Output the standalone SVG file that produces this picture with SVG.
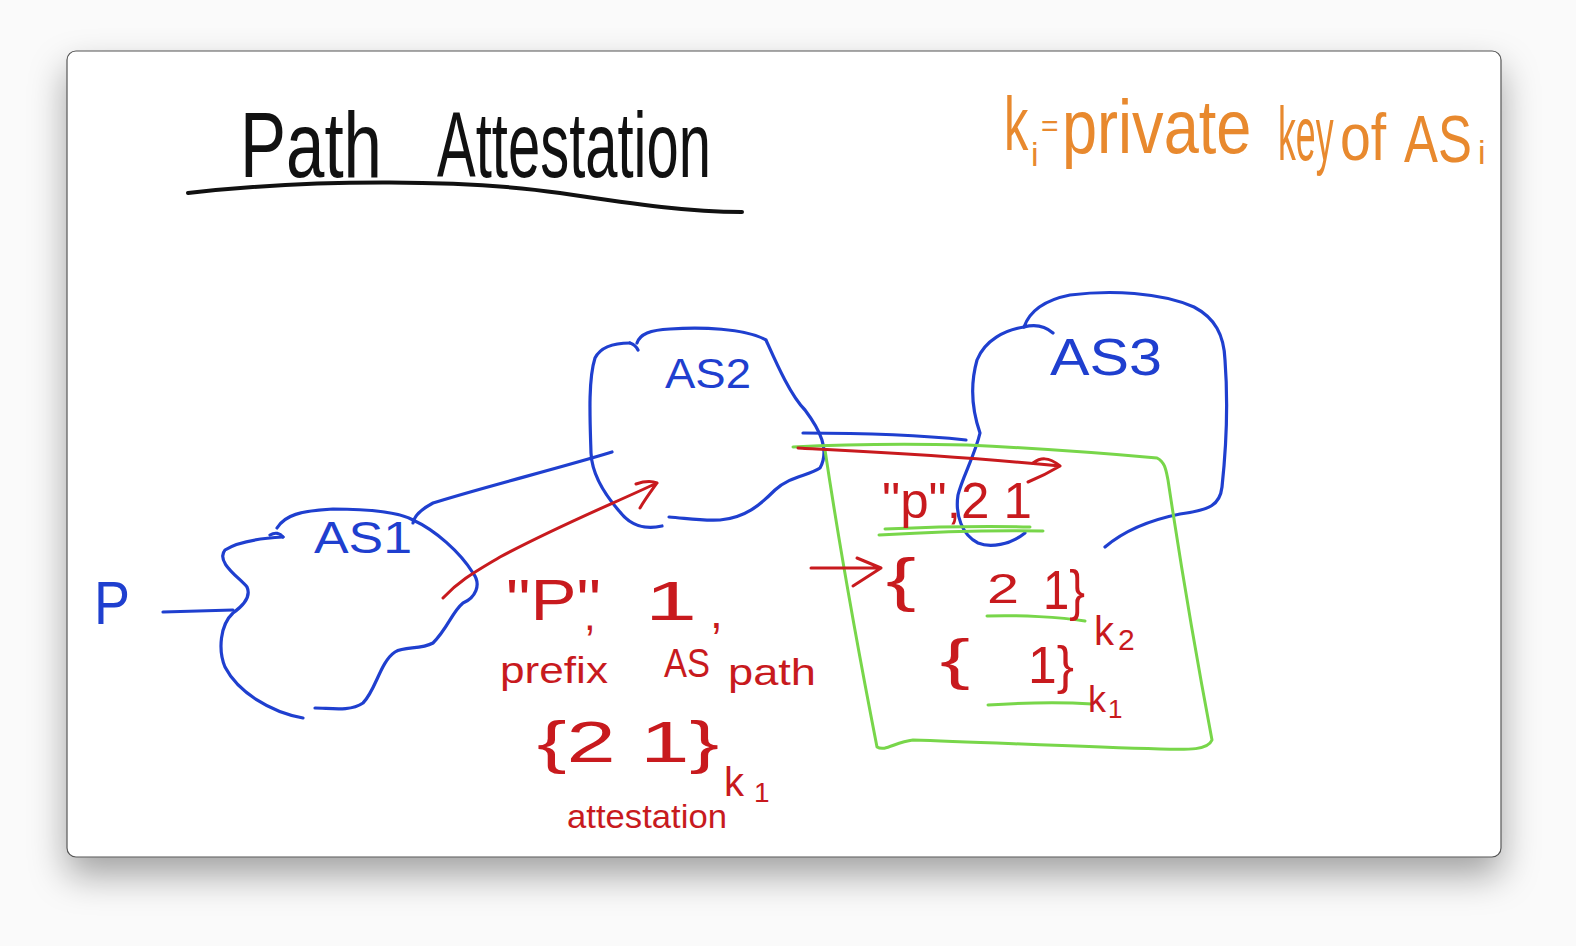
<svg xmlns="http://www.w3.org/2000/svg" width="1576" height="946" viewBox="0 0 1576 946">
<defs>
<filter id="sh" x="-10%" y="-10%" width="120%" height="130%">
<feDropShadow dx="0" dy="18" stdDeviation="18" flood-color="#000" flood-opacity="0.35"/>
</filter>
<style>
.b{fill:none;stroke:#1f3fcf;stroke-width:3.2;stroke-linecap:round;stroke-linejoin:round}
.r{fill:none;stroke:#c81a1e;stroke-width:3;stroke-linecap:round;stroke-linejoin:round}
.g{fill:none;stroke:#78d64a;stroke-width:3;stroke-linecap:round;stroke-linejoin:round}
.k{fill:none;stroke:#111;stroke-width:4;stroke-linecap:round}
text{font-family:"Liberation Sans","DejaVu Sans",sans-serif}
.tb{fill:#1f3fcf}
.tr{fill:#c81a1e}
.to{fill:#e8892e}
.tk{fill:#111}
</style>
</defs>
<rect x="0" y="0" width="1576" height="946" fill="#fafafa"/>
<rect x="67" y="51" width="1434" height="806" rx="9" fill="#fff" stroke="#555" stroke-width="1.2" filter="url(#sh)"/>

<g id="title">
<text class="tk" x="240" y="177" font-size="92" textLength="142" lengthAdjust="spacingAndGlyphs">Path</text>
<text class="tk" x="437" y="177" font-size="92" textLength="274" lengthAdjust="spacingAndGlyphs">Attestation</text>
<path class="k" d="M188,193 C320,178 470,180 560,193 C640,205 690,212 742,212"/>
</g>

<g id="legend">
<text class="to" font-size="76" transform="translate(1004,150) scale(0.64,1)">k</text>
<text class="to" x="1031" y="166" font-size="34">i</text>
<text class="to" x="1041" y="136" font-size="30">=</text>
<text class="to" font-size="76" transform="translate(1062,153) scale(0.83,1)">private</text>
<text class="to" font-size="76" transform="translate(1278,160) scale(0.47,1)">key</text>
<text class="to" font-size="66" transform="translate(1340,160) scale(0.84,1)">of</text>
<text class="to" font-size="66" transform="translate(1404,162) scale(0.77,1)">AS</text>
<text class="to" x="1478" y="164" font-size="34">i</text>
</g>

<g id="prefix-p">
<text class="tb" x="94" y="624" font-size="62" textLength="36" lengthAdjust="spacingAndGlyphs">P</text>
</g>

<g id="as1">
<path class="b" d="M270,535 C275,532 280,533 283,537 M277,528 C285,515 300,511 333,509 C370,509 398,512 413,520 C435,530 460,552 473,573 C482,585 475,598 463,603 C452,612 448,628 433,643 C420,650 405,646 395,652 C380,662 376,690 363,703 C350,712 330,708 315,708"/>
<path class="b" d="M283,537 C265,538 240,540 225,550 C215,562 240,578 247,587 C252,598 240,608 233,613 C220,625 218,650 225,667 C238,692 270,712 303,718"/>
<text class="tb" x="314" y="553" font-size="44" textLength="98" lengthAdjust="spacingAndGlyphs">AS1</text>
</g>

<g id="as2">
<path class="b" d="M638,350 C636,346 633,344 630,343 M637,343 C640,334 650,330 670,329 C700,327 745,328 766,340 C775,360 790,395 805,410 C820,430 830,450 820,468 C808,476 790,476 775,490 C760,505 745,518 720,520 C700,521 685,518 669,517"/>
<path class="b" d="M662,526 C645,530 630,525 620,512 C605,495 592,475 591,453 C590,420 588,380 595,358 C600,348 612,343 630,343"/>
<text class="tb" x="665" y="388" font-size="42" textLength="86" lengthAdjust="spacingAndGlyphs">AS2</text>
</g>

<g id="as3">
<path class="b" d="M1053,333 C1045,326 1035,324 1024,327 C1030,310 1045,300 1070,295 C1110,290 1160,292 1194,307 C1215,318 1224,335 1225,360 C1228,400 1226,450 1222,487 C1220,505 1210,510 1180,514 C1150,520 1125,530 1105,547"/>
<path class="b" d="M1024,327 C1005,330 985,340 977,360 C970,385 972,410 980,433 C975,455 962,478 958,495 C955,515 962,535 978,543 C990,548 1010,545 1025,533"/>
<text class="tb" x="1050" y="375" font-size="52" textLength="112" lengthAdjust="spacingAndGlyphs">AS3</text>
</g>

<g id="attestation-box">
<path class="g" d="M793,447 C850,444 920,444 967,445 C1030,448 1100,453 1157,458 C1165,462 1166,470 1168,480 C1180,560 1195,650 1212,740 C1208,750 1190,750 1160,749 C1080,747 980,742 913,740 C895,742 885,752 877,747 C860,660 840,550 825,450"/>
<path class="g" d="M879,535 C930,532 990,530 1043,531 M885,529 C930,527 990,526 1030,527" stroke-width="4"/>
<path class="g" d="M987,616 C1020,615 1060,617 1085,621"/>
<path class="g" d="M988,705 C1020,703 1060,702 1092,704"/>
<text class="tr" x="882" y="518" font-size="50" textLength="150" lengthAdjust="spacingAndGlyphs">"p",2 1</text>
<text class="tr" x="886" y="600" font-size="60" textLength="30" lengthAdjust="spacingAndGlyphs">{</text>
<text class="tr" x="987" y="603" font-size="42" textLength="32" lengthAdjust="spacingAndGlyphs">2</text>
<text class="tr" x="1043" y="609" font-size="56" textLength="42" lengthAdjust="spacingAndGlyphs">1}</text>
<text class="tr" x="1094" y="645" font-size="40">k</text>
<text class="tr" x="1118" y="650" font-size="30">2</text>
<text class="tr" x="940" y="678" font-size="56" textLength="30" lengthAdjust="spacingAndGlyphs">{</text>
<text class="tr" x="1028" y="683" font-size="52" textLength="46" lengthAdjust="spacingAndGlyphs">1}</text>
<text class="tr" x="1088" y="712" font-size="36">k</text>
<text class="tr" x="1108" y="718" font-size="26">1</text>
</g>

<g id="announcement">
<text class="tr" x="506" y="620" font-size="58" textLength="95" lengthAdjust="spacingAndGlyphs">"P"</text>
<text class="tr" x="584" y="630" font-size="42">,</text>
<text class="tr" x="645" y="620" font-size="56" textLength="52" lengthAdjust="spacingAndGlyphs">1</text>
<text class="tr" x="710" y="628" font-size="46">,</text>
<text class="tr" x="500" y="683" font-size="36" textLength="108" lengthAdjust="spacingAndGlyphs">prefix</text>
<text class="tr" x="664" y="677" font-size="40" textLength="46" lengthAdjust="spacingAndGlyphs">AS</text>
<text class="tr" x="728" y="685" font-size="36" textLength="88" lengthAdjust="spacingAndGlyphs">path</text>
<text class="tr" x="537" y="762" font-size="58" textLength="182" lengthAdjust="spacingAndGlyphs">{2 1}</text>
<text class="tr" x="724" y="796" font-size="40">k</text>
<text class="tr" x="754" y="802" font-size="28">1</text>
<text class="tr" x="567" y="828" font-size="34" textLength="160" lengthAdjust="spacingAndGlyphs">attestation</text>
</g>

<g id="connectors">
<path class="b" d="M163,612 L233,610"/>
<path class="b" d="M413,523 C414,516 420,510 433,503 C480,488 560,468 612,452"/>
<path class="b" d="M803,433 C860,433 920,435 966,440"/>
<path class="r" d="M443,598 C460,580 475,572 500,557 C560,525 610,505 657,483 M636,484 C645,481 652,481 657,483 C652,490 646,498 640,508"/>
<path class="r" d="M798,448 C830,450 950,455 1060,466 M1033,463 C1040,458 1048,456 1060,466 C1050,472 1038,478 1028,482"/>
<path class="r" d="M811,568 L881,568 M857,558 L881,568 L853,586"/>
</g>
</svg>
